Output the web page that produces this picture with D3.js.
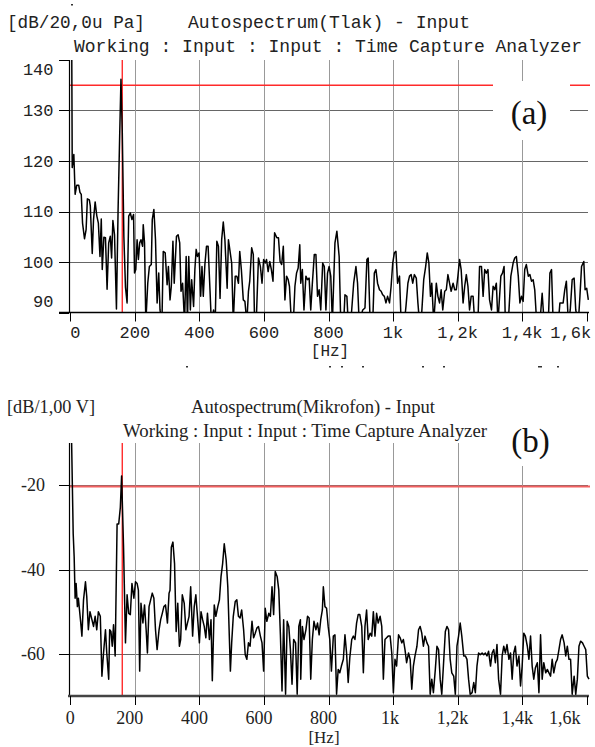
<!DOCTYPE html>
<html>
<head>
<meta charset="utf-8">
<script src="https://cdn.jsdelivr.net/npm/d3@7"></script>
<style>
  body { margin: 0; background: #fff; }
</style>
</head>
<body>
<div id="main"></div>
<script>

// frequency axis, shared by both spectra
var tickFreq = [0, 200, 400, 600, 800, 1000, 1200, 1400, 1600];
var tickFreqLabels = ['0', '200', '400', '600', '800', '1k', '1,2k', '1,4k', '1,6k'];

// (a) pressure spectrum [Hz, dB]
var levelTicksA = [90, 100, 110, 120, 130, 140];
var gridLevelsA = [100, 110, 120, 130];
var spectrumA = [[4,150],[6,118.7],[11,121.3],[15,113.4],[20,115.2],[26,115.2],[30,113.8],[34,113.4],[38,107.7],[44,104.6],[49,106.4],[53,112.5],[59,112.3],[62,111.1],[68,101.7],[72,108.4],[77,111.9],[82,109.2],[87,107.7],[92,101.1],[96,108.5],[99,98.5],[104,104.9],[109,104.8],[114,94.6],[119,103.8],[124,105.1],[128,100.8],[132,108.2],[137,105.4],[143,90.7],[148,110],[153,125],[157,136.2],[161,126],[166,105],[171,95],[176,91.9],[181,109.1],[186,109.7],[191,108.4],[196,109.4],[199,97.8],[203,98.5],[207,104.4],[211,100.5],[215,103.8],[219,104.4],[224,103.1],[226,107.4],[230,103.8],[234,88],[240,95.8],[245,99.1],[251,99.5],[254,108.4],[259,110.4],[264,104.4],[269,91.9],[274,97.8],[278,90.5],[284,88],[288,102.1],[294,101.8],[300,95.5],[304,99.1],[309,92.5],[313,95.2],[318,104.1],[322,95.8],[329,105.1],[334,105.4],[339,103.8],[343,94.2],[348,95.8],[354,88],[359,101.1],[363,88],[367,101.1],[372,90.5],[376,96.5],[382,91.2],[386,98.5],[390,102.5],[394,101.1],[399,101.8],[404,93.2],[408,99.1],[412,93.2],[417,99.5],[422,103.1],[427,103.1],[433,94.2],[437,88],[444,90.5],[449,88],[454,104.1],[459,103.1],[464,92.8],[469,104.4],[474,107.9],[479,104.4],[486,94.8],[490,104.4],[495,102.1],[500,99.8],[505,88],[511,97.2],[516,97.2],[521,95.8],[525,102.1],[530,98.5],[536,92.5],[541,92.2],[547,88],[552,94.2],[556,96.2],[562,102.8],[567,101.5],[571,88],[576,88],[583,100.8],[589,99.1],[594,95.8],[599,100.5],[604,99.8],[608,100.5],[613,98.1],[618,100.1],[623,98.5],[628,96.2],[633,105.8],[640,104.8],[645,104.8],[650,100.1],[655,99.5],[660,103.1],[665,92.5],[670,97.2],[675,96.5],[679,95.2],[685,88],[691,88],[696,95.2],[701,97.8],[706,98.8],[711,103.4],[714,95.8],[719,98.5],[724,90.5],[730,97.2],[735,96.5],[740,96.8],[745,90.5],[750,95.8],[756,101.5],[761,101.5],[766,93.2],[771,94.5],[776,90.5],[782,99.8],[787,99.1],[792,90.5],[797,97.8],[802,99.1],[807,97.2],[812,88],[820,103.8],[826,106.1],[833,101.1],[838,88],[847,88],[851,93.5],[857,93.2],[861,88],[869,88],[878,95.8],[885,99.1],[890,95.8],[895,88],[906,90.5],[913,90.9],[919,100.5],[923,100.8],[929,88],[937,88],[942,97.8],[947,98.5],[952,95.8],[958,94.5],[963,94.2],[968,93.5],[973,93.2],[978,91.9],[983,93.2],[989,91.9],[994,95.2],[999,99.8],[1004,101.8],[1009,102.1],[1014,95.8],[1020,97.2],[1025,88],[1035,88],[1040,91.2],[1046,95.8],[1051,97.2],[1056,97.5],[1061,95.8],[1066,97.5],[1072,96.8],[1077,91.9],[1082,88],[1087,88],[1095,96.5],[1101,99.1],[1106,101.8],[1111,99.8],[1116,93.2],[1120,95.8],[1126,88],[1134,95.8],[1139,93.2],[1144,91.9],[1149,94.5],[1154,90.5],[1160,94.2],[1165,94.5],[1170,97.5],[1175,95.8],[1180,94.2],[1186,95.8],[1191,94.5],[1196,94.5],[1201,97.2],[1206,100.5],[1211,98.5],[1217,91.9],[1222,95.2],[1227,97.5],[1232,95.2],[1237,90.5],[1242,93.2],[1248,93.2],[1253,88],[1263,88],[1268,99.1],[1274,99.1],[1279,93.2],[1284,98.5],[1289,97.8],[1294,98.5],[1299,92.5],[1305,90.5],[1310,95.2],[1315,94.5],[1320,95.8],[1325,88],[1334,97.2],[1339,97.8],[1344,99.1],[1348,88],[1357,88],[1365,97.2],[1372,99.8],[1377,100.8],[1382,101.1],[1388,97.2],[1393,91.9],[1398,93.2],[1403,92.2],[1408,98.5],[1413,99.5],[1419,97.2],[1424,97.5],[1429,96.2],[1434,96.5],[1439,94.5],[1445,88],[1455,88],[1462,93.8],[1468,88],[1481,88],[1486,97.8],[1491,98.5],[1496,88],[1512,88],[1517,91.9],[1527,91.9],[1532,94.5],[1537,96.2],[1543,88],[1549,90.5],[1555,96.5],[1561,96.8],[1566,90.5],[1574,88],[1579,93.2],[1584,99.1],[1591,100.1],[1595,94.5],[1600,94.8],[1605,92.5]];

// (b) microphone spectrum [Hz, dB]
var levelTicksB = [-60, -40, -20];
var gridLevelsB = [-60, -40, -20];
var spectrumB = [[3,-5],[9,-31.5],[12,-37.0],[15,-46.8],[18,-43.3],[22,-48.8],[25,-46.8],[28,-49.2],[32,-52.3],[36,-55.8],[41,-47.2],[47,-42.9],[51,-46.4],[56,-54.3],[61,-50.0],[67,-51.9],[72,-53.5],[77,-51.1],[82,-54.3],[87,-50.0],[93,-51.1],[98,-65.3],[103,-59.8],[109,-54.3],[113,-59.8],[119,-66.0],[122,-54.3],[126,-54.7],[130,-58.2],[134,-53.1],[139,-60.5],[145,-29.2],[150,-29.2],[155,-25.3],[159,-17.8],[165,-34.7],[171,-57.4],[176,-46.0],[181,-50.4],[186,-50.7],[191,-43.3],[197,-46.8],[202,-42.9],[207,-43.3],[211,-44.9],[215,-64.1],[219,-48.0],[225,-52.7],[230,-48.4],[235,-54.3],[239,-59.8],[244,-48.8],[249,-47.2],[254,-45.6],[259,-46.8],[264,-54.3],[269,-59.0],[275,-54.3],[280,-51.9],[285,-50.4],[290,-48.8],[295,-48.4],[301,-52.7],[306,-45.6],[309,-44.9],[313,-34.7],[318,-33.5],[323,-38.6],[328,-54.7],[333,-48.0],[338,-58.2],[342,-56.6],[347,-46.0],[353,-48.0],[358,-54.3],[363,-52.7],[368,-51.1],[373,-44.1],[379,-55.8],[384,-48.8],[389,-46.0],[394,-51.1],[400,-57.4],[405,-50.0],[410,-51.9],[415,-53.5],[420,-56.2],[425,-50.4],[431,-56.6],[436,-51.9],[440,-66.4],[446,-48.4],[451,-51.1],[457,-48.8],[462,-47.2],[467,-41.7],[472,-38.6],[477,-33.9],[483,-37.8],[488,-44.1],[493,-56.6],[496,-64.1],[500,-57.4],[505,-51.1],[511,-47.6],[516,-47.2],[521,-51.1],[526,-51.5],[531,-49.6],[537,-54.3],[542,-60.2],[547,-61.3],[552,-57.4],[557,-58.2],[563,-52.3],[568,-56.2],[573,-55.1],[578,-53.9],[583,-53.5],[589,-55.8],[594,-57.4],[599,-64.1],[604,-49.2],[609,-52.3],[615,-50.4],[620,-51.1],[625,-44.1],[630,-50.7],[635,-40.5],[641,-41.7],[646,-44.9],[651,-55.5],[656,-68.8],[661,-51.9],[667,-69.6],[672,-52.3],[677,-53.5],[682,-59.0],[687,-67.2],[692,-56.6],[698,-57.4],[703,-69.6],[708,-53.5],[713,-51.9],[714,-66.0],[719,-53.5],[724,-56.6],[730,-54.3],[735,-51.1],[740,-51.5],[745,-66.0],[750,-56.6],[755,-52.3],[761,-54.3],[766,-52.7],[771,-55.5],[776,-51.9],[781,-49.6],[784,-44.1],[789,-48.8],[794,-49.2],[799,-53.5],[804,-56.6],[809,-64.1],[815,-55.8],[820,-55.5],[825,-69.6],[830,-63.7],[835,-64.5],[840,-62.9],[846,-61.3],[851,-55.5],[856,-59.8],[861,-66.8],[866,-60.9],[872,-56.6],[877,-55.8],[882,-56.6],[887,-52.7],[892,-50.7],[897,-50.7],[903,-53.5],[908,-64.5],[913,-53.5],[918,-49.6],[923,-56.6],[929,-55.1],[934,-55.8],[939,-50.0],[944,-55.8],[949,-50.4],[954,-52.7],[960,-51.1],[965,-53.5],[970,-66.0],[975,-56.6],[980,-56.2],[985,-55.8],[991,-55.8],[996,-59.8],[1001,-69.2],[1006,-61.3],[1011,-62.9],[1017,-55.5],[1022,-56.2],[1027,-57.4],[1032,-56.6],[1037,-59.0],[1042,-62.1],[1048,-59.8],[1053,-61.3],[1058,-68.4],[1063,-62.9],[1068,-60.5],[1074,-58.2],[1079,-54.3],[1084,-53.5],[1089,-55.1],[1094,-58.2],[1099,-55.8],[1105,-57.4],[1110,-58.2],[1115,-69.6],[1120,-66.0],[1125,-69.2],[1131,-63.7],[1136,-58.2],[1141,-59.0],[1146,-66.0],[1151,-69.6],[1156,-62.9],[1162,-54.7],[1167,-53.5],[1172,-54.3],[1177,-61.3],[1182,-64.5],[1188,-65.3],[1193,-69.6],[1198,-58.2],[1203,-55.8],[1208,-52.7],[1213,-55.8],[1219,-60.5],[1224,-60.5],[1229,-61.3],[1234,-66.0],[1239,-69.6],[1245,-69.2],[1250,-66.8],[1255,-69.2],[1260,-62.9],[1265,-59.8],[1270,-60.2],[1276,-59.8],[1281,-60.2],[1286,-59.8],[1291,-60.5],[1296,-59.4],[1302,-62.9],[1307,-59.8],[1312,-59.0],[1317,-62.1],[1322,-57.8],[1327,-66.0],[1333,-69.6],[1338,-60.5],[1343,-58.2],[1348,-59.8],[1353,-57.8],[1359,-61.3],[1364,-59.8],[1369,-66.0],[1374,-59.8],[1379,-58.2],[1384,-62.9],[1390,-60.5],[1395,-67.6],[1400,-62.9],[1405,-55.1],[1410,-55.8],[1416,-58.2],[1421,-61.3],[1426,-55.8],[1431,-62.9],[1436,-66.0],[1441,-63.3],[1447,-62.1],[1452,-69.2],[1457,-55.5],[1462,-66.0],[1467,-62.1],[1473,-64.5],[1478,-63.7],[1483,-64.5],[1488,-65.3],[1493,-61.3],[1498,-64.5],[1504,-62.1],[1509,-61.3],[1514,-59.0],[1519,-56.6],[1524,-55.5],[1530,-57.4],[1535,-60.5],[1540,-58.2],[1545,-61.3],[1550,-61.3],[1555,-69.6],[1561,-65.3],[1566,-69.6],[1571,-66.0],[1576,-58.2],[1581,-57.0],[1587,-57.4],[1592,-58.2],[1597,-59.0],[1602,-65.3],[1607,-66.0]];

// red cursors
var markerFreq = 161;
var markerLevelA = 135;
var markerLevelB = -20.3;

// stray marks left over from the scan
var strayMarks = [[71, 4], [186, 366], [329, 366], [341, 366], [362, 366], [422, 366], [443, 366], [538, 366], [540, 366], [557, 366]];

var width = 595;
var height = 747;

var svg = d3.select('#main').append('svg')
  .attr('width', width).attr('height', height);

var x = d3.scaleLinear().domain([-4, 1604]).range([69, 588]);

function create_panel(p) {

  var y = d3.scaleLinear().domain(p.yDomain).range([p.bottom, p.top]);

  var line = d3.line()
    .x(function (d) { return x(d[0]) })
    .y(function (d) { return y(d[1]) });

  var g = svg.append('g');

  // horizontal grid
  g.selectAll('.hgrid').data(p.grid).enter().append('line')
    .attr('x1', 69).attr('x2', 588)
    .attr('y1', function (d) { return Math.round(y(d)) + 0.5 })
    .attr('y2', function (d) { return Math.round(y(d)) + 0.5 })
    .attr('stroke', '#666').attr('stroke-width', 1);

  // vertical grid
  g.selectAll('.vgrid').data(tickFreq.slice(1, -1)).enter().append('line')
    .attr('x1', function (d) { return Math.round(x(d)) + 0.5 })
    .attr('x2', function (d) { return Math.round(x(d)) + 0.5 })
    .attr('y1', p.top).attr('y2', p.bottom)
    .attr('stroke', '#999').attr('stroke-width', 1);

  // red cursors
  g.append('line')
    .attr('x1', 69).attr('x2', 590)
    .attr('y1', y(p.marker)).attr('y2', y(p.marker))
    .attr('stroke', p.markerColor).attr('stroke-width', p.markerWidth);

  g.append('line')
    .attr('x1', x(markerFreq)).attr('x2', x(markerFreq))
    .attr('y1', p.top).attr('y2', p.bottom)
    .attr('stroke', '#ff1a1a').attr('stroke-width', 1.3);

  // white box behind the panel tag
  g.append('rect')
    .attr('x', p.box[0]).attr('y', p.box[1])
    .attr('width', p.box[2]).attr('height', p.box[3])
    .attr('fill', '#fff');

  // spectrum trace
  svg.append('clipPath').attr('id', p.id + '-clip')
    .append('rect')
    .attr('x', 69).attr('y', p.top)
    .attr('width', 522).attr('height', p.bottom - p.top);

  g.append('path')
    .datum(p.data)
    .attr('clip-path', 'url(#' + p.id + '-clip)')
    .attr('fill', 'none')
    .attr('stroke', '#000')
    .attr('stroke-width', 1.5)
    .attr('stroke-linejoin', 'round')
    .attr('d', line);

  // axes
  g.append('line')
    .attr('x1', 69.5).attr('x2', 69.5)
    .attr('y1', p.top).attr('y2', p.bottom)
    .attr('stroke', '#000').attr('stroke-width', 1.2);

  g.append('line')
    .attr('x1', p.bottomStart).attr('x2', 589)
    .attr('y1', p.bottom).attr('y2', p.bottom)
    .attr('stroke', p.bottomColor).attr('stroke-width', p.bottomWidth);

  g.selectAll('.ytick').data(p.yTicks).enter().append('line')
    .attr('x1', 59).attr('x2', 69)
    .attr('y1', function (d) { return Math.round(y(d)) + 0.5 })
    .attr('y2', function (d) { return Math.round(y(d)) + 0.5 })
    .attr('stroke', '#000').attr('stroke-width', 1);

  g.selectAll('.xtick').data(tickFreq).enter().append('line')
    .attr('x1', function (d) { return Math.round(x(d)) + 0.5 })
    .attr('x2', function (d) { return Math.round(x(d)) + 0.5 })
    .attr('y1', p.bottom).attr('y2', p.bottom + 9)
    .attr('stroke', '#000').attr('stroke-width', 1);

  // tick labels
  g.selectAll('.ylabel').data(p.yTicks).enter().append('text')
    .attr('x', p.yLabelX)
    .attr('y', function (d, i) { return y(d) + p.yLabelDy[i] })
    .attr('text-anchor', 'end')
    .attr('font-family', p.font)
    .attr('font-size', p.tickSize)
    .attr('fill', '#222')
    .text(function (d) { return d });

  g.selectAll('.xlabel').data(tickFreq).enter().append('text')
    .attr('x', function (d, i) { return x(d) + p.xLabelDx[i] })
    .attr('y', p.xLabelY)
    .attr('text-anchor', 'middle')
    .attr('font-family', p.font)
    .attr('font-size', p.tickSize)
    .attr('fill', '#222')
    .text(function (d, i) { return tickFreqLabels[i] });

  g.append('text')
    .attr('x', p.hzX).attr('y', p.hzY)
    .attr('text-anchor', 'middle')
    .attr('font-family', p.font)
    .attr('font-size', p.hzSize)
    .attr('fill', '#222')
    .text('[Hz]');

  // headings
  p.heads.forEach(function (h) {
    g.append('text')
      .attr('x', h[1]).attr('y', h[2])
      .attr('textLength', h[3])
      .attr('lengthAdjust', 'spacingAndGlyphs')
      .attr('font-family', p.font)
      .attr('font-size', p.titleSize)
      .attr('fill', '#222')
      .text(h[0]);
  });

  g.append('text')
    .attr('x', p.tag[1]).attr('y', p.tag[2])
    .attr('text-anchor', 'middle')
    .attr('font-family', '"Liberation Serif", "Times New Roman", serif')
    .attr('font-size', 33)
    .attr('fill', '#111')
    .text(p.tag[0]);
}

create_panel({
  id: 'a',
  data: spectrumA,
  yDomain: [90, 140], top: 60, bottom: 312.5,
  yTicks: levelTicksA, grid: gridLevelsA,
  marker: markerLevelA, markerColor: '#ff2a2a', markerWidth: 1.3,
  bottomStart: 59, bottomColor: '#000', bottomWidth: 1.6,
  font: '"Liberation Mono", "Courier New", monospace',
  tickSize: 17, titleSize: 18, hzSize: 16,
  yLabelX: 53.5, yLabelDy: [-6, 5.5, 5.5, 5.5, 5.5, 15],
  xLabelY: 338, xLabelDx: [5, 0, 0, 0, 0, 0, 0, 0, -16],
  hzX: 330, hzY: 356,
  heads: [['[dB/20,0u Pa]', 7, 28, 138], ['Autospectrum(Tlak) - Input', 188, 28, 282],
          ['Working : Input : Input : Time Capture Analyzer', 74, 51.5, 508]],
  tag: ['(a)', 529, 124],
  box: [493, 81, 77, 59]
});

create_panel({
  id: 'b',
  data: spectrumB,
  yDomain: [-70, -10], top: 443, bottom: 696,
  yTicks: levelTicksB, grid: gridLevelsB,
  marker: markerLevelB, markerColor: '#f26060', markerWidth: 2,
  bottomStart: 68, bottomColor: '#444', bottomWidth: 2.4,
  font: '"Liberation Serif", "Times New Roman", serif',
  tickSize: 18, titleSize: 18, hzSize: 17,
  yLabelX: 45, yLabelDy: [6, 6, 6],
  xLabelY: 724, xLabelDx: [0, -5, -5, -5, -5, -3, -5, -5, -22],
  hzX: 324, hzY: 743,
  heads: [['[dB/1,00 V]', 7, 413, 88], ['Autospectrum(Mikrofon) - Input', 191, 413, 244],
          ['Working : Input : Input : Time Capture Analyzer', 123, 436.5, 364]],
  tag: ['(b)', 530.5, 452],
  box: [493, 420, 77, 46]
});

svg.selectAll('.stray').data(strayMarks).enter().append('rect')
  .attr('x', function (d) { return d[0] })
  .attr('y', function (d) { return d[1] })
  .attr('width', 2).attr('height', 1.5)
  .attr('fill', '#333');

</script>
</body>
</html>
